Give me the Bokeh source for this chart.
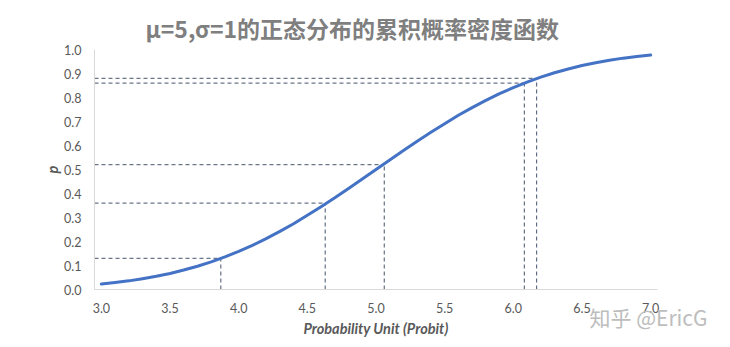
from bokeh.plotting import figure
from bokeh.models import Range1d, FixedTicker, NumeralTickFormatter, Title, ColumnDataSource
from bokeh.embed import file_html
from bokeh.resources import INLINE

# Data
probit = [3.0, 3.1, 3.2, 3.3, 3.4, 3.5, 3.6, 3.7, 3.8, 3.9,
          4.0, 4.1, 4.2, 4.3, 4.4, 4.5, 4.6, 4.7, 4.8, 4.9,
          5.0, 5.1, 5.2, 5.3, 5.4, 5.5, 5.6, 5.7, 5.8, 5.9,
          6.0, 6.1, 6.2, 6.3, 6.4, 6.5, 6.6, 6.7, 6.8, 6.9, 7.0]
prob = [0.023, 0.029, 0.036, 0.045, 0.055, 0.067, 0.081, 0.097, 0.115, 0.136,
        0.159, 0.184, 0.212, 0.242, 0.274, 0.309, 0.345, 0.382, 0.421, 0.460,
        0.500, 0.540, 0.579, 0.618, 0.655, 0.691, 0.726, 0.758, 0.788, 0.816,
        0.841, 0.864, 0.885, 0.903, 0.919, 0.933, 0.945, 0.955, 0.964, 0.971, 0.977]

# marked points (dashed guide lines)
mark_x = [3.87, 4.63, 5.06, 6.08, 6.17]
mark_y = [0.13, 0.36, 0.52, 0.86, 0.88]

x_ticks = [3.0, 3.5, 4.0, 4.5, 5.0, 5.5, 6.0, 6.5, 7.0]
y_ticks = [0.0, 0.1, 0.2, 0.3, 0.4, 0.5, 0.6, 0.7, 0.8, 0.9, 1.0]

title_text = "μ=5,σ=1的正态分布的累积概率密度函数"
x_label = "Probability Unit (Probit)"
y_label = "p"
watermark = "知乎 @EricG"

X_MIN, X_MAX = 2.95, 7.05

p = figure(width=730, height=347, output_backend="svg", toolbar_location=None,
           x_range=Range1d(X_MIN, X_MAX), y_range=Range1d(0, 1.0),
           min_border_left=94, min_border_right=73, min_border_top=49, min_border_bottom=58)
p.outline_line_color = None
p.xgrid.visible = False
p.ygrid.visible = False

# title
p.title.text = title_text
p.title.text_font = "Noto Sans CJK SC"
p.title.text_font_size = "23px"
p.title.text_font_style = "bold"
p.title.text_color = "#7f7f7f"
p.title.align = "left"
p.title.offset = 51

for ax in (p.xaxis[0], p.yaxis[0]):
    ax.axis_line_color = "#d9d9d9"
    ax.axis_line_width = 1
    ax.major_tick_line_color = None
    ax.minor_tick_line_color = None
    ax.major_label_text_font = "Lato"
    ax.major_label_text_font_size = "12.5px"
    ax.major_label_text_color = "#595959"
    ax.axis_label_text_font = "Lato"
    ax.axis_label_text_font_size = "14.5px"
    ax.axis_label_text_font_style = "bold italic"
    ax.axis_label_text_color = "#595959"
    ax.formatter = NumeralTickFormatter(format="0.0")

p.xaxis[0].ticker = FixedTicker(ticks=x_ticks)
p.yaxis[0].ticker = FixedTicker(ticks=y_ticks)
p.xaxis[0].axis_label = x_label
p.yaxis[0].axis_label = y_label
p.xaxis[0].major_label_standoff = 7
p.yaxis[0].major_label_standoff = 7
p.xaxis[0].axis_label_standoff = 4
p.yaxis[0].axis_label_standoff = 0

# dashed guides
src = ColumnDataSource(dict(mx=mark_x, my=mark_y, x0=[X_MIN] * len(mark_x), y0=[0.0] * len(mark_y)))
p.segment(x0="x0", y0="my", x1="mx", y1="my", source=src,
          line_color="#44546a", line_width=1, line_dash="4 3")
p.segment(x0="mx", y0="y0", x1="mx", y1="my", source=src,
          line_color="#44546a", line_width=1, line_dash="4 3")

# curve
p.line(probit, prob, line_color="#4472c4", line_width=3, line_join="round", line_cap="round")

# watermark as a bottom title pulled up next to the axis (negative standoff)
wm = Title(text=watermark, align="left", offset=495, vertical_align="top", standoff=-76,
           text_font="Noto Sans CJK SC", text_font_size="21px", text_font_style="normal",
           text_color="#bdbdbd")
p.add_layout(wm, "below")

open("out.html", "w").write(file_html(p, INLINE))
